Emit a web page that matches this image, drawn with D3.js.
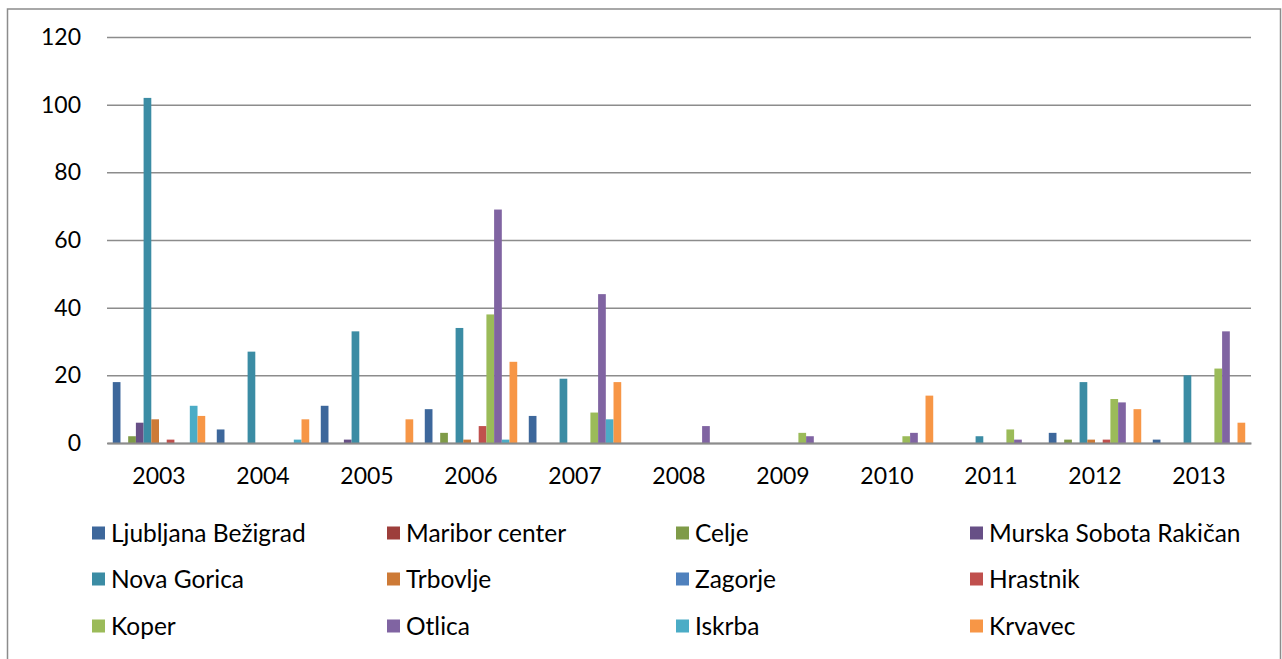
<!DOCTYPE html>
<html lang="sl">
<head>
<meta charset="utf-8">
<title>Stations by year</title>
<script src="https://cdn.jsdelivr.net/npm/d3@7"></script>
<style>
  body { margin: 0; background: #fff; }
  text { font-family: Lato, "Open Sans", sans-serif; fill: #000; }
</style>
</head>
<body>
<div id="chart"></div>
<script>
// categories on the x axis
var years = ["2003", "2004", "2005", "2006", "2007", "2008", "2009", "2010", "2011", "2012", "2013"];

// one series per station, in legend order
var stations = ["Ljubljana Bežigrad", "Maribor center", "Celje", "Murska Sobota Rakičan",
                "Nova Gorica", "Trbovlje", "Zagorje", "Hrastnik",
                "Koper", "Otlica", "Iskrba", "Krvavec"];

var ljubljana = [18, 4, 11, 10, 8, 0, 0, 0, 0, 3, 1];
var maribor   = [0, 0, 0, 0, 0, 0, 0, 0, 0, 0, 0];
var celje     = [2, 0, 0, 3, 0, 0, 0, 0, 0, 1, 0];
var murska    = [6, 0, 1, 0, 0, 0, 0, 0, 0, 0, 0];
var novaGorica = [102, 27, 33, 34, 19, 0, 0, 0, 2, 18, 20];
var trbovlje  = [7, 0, 0, 1, 0, 0, 0, 0, 0, 1, 0];
var zagorje   = [0, 0, 0, 0, 0, 0, 0, 0, 0, 0, 0];
var hrastnik  = [1, 0, 0, 5, 0, 0, 0, 0, 0, 1, 0];
var koper     = [0, 0, 0, 38, 9, 0, 3, 2, 4, 13, 22];
var otlica    = [0, 0, 0, 69, 44, 5, 2, 3, 1, 12, 33];
var iskrba    = [11, 1, 0, 1, 7, 0, 0, 0, 0, 0, 0];
var krvavec   = [8, 7, 7, 24, 18, 0, 0, 14, 0, 10, 6];

var yTicks = [0, 20, 40, 60, 80, 100, 120];

var seriesValues = [ljubljana, maribor, celje, murska, novaGorica, trbovlje,
                    zagorje, hrastnik, koper, otlica, iskrba, krvavec];

var colors = ["#3d679b", "#9d3e3b", "#7f9b48", "#674f86", "#3b8ca4", "#cd7a36",
              "#4f81bd", "#c0504d", "#9bbb59", "#8064a2", "#4bacc6", "#f79646"];

var width = 1282, height = 659;

var svg = d3.select("#chart")
    .append("svg")
    .attr("width", width)
    .attr("height", height);

// outer frame
svg.append("rect")
    .attr("x", 7.5)
    .attr("y", 9)
    .attr("width", 1273)
    .attr("height", 700)
    .attr("fill", "none")
    .attr("stroke", "#8c8c8c")
    .attr("stroke-width", 1.5);

var x0 = d3.scaleBand()
    .domain(years)
    .range([107, 1251])
    .paddingInner(0)
    .paddingOuter(0);

var x1 = d3.scaleBand()
    .domain(stations)
    .range([0, x0.bandwidth()])
    .paddingInner(0)
    .paddingOuter(0.75);

var y = d3.scaleLinear()
    .domain([0, 120])
    .range([443, 37]);

// gridlines + y labels
var yAxis = svg.append("g")
    .attr("transform", "translate(107,0)")
    .call(d3.axisLeft(y).tickValues(yTicks).tickSize(-1144).tickPadding(26));
yAxis.select(".domain").remove();
yAxis.selectAll(".tick line")
    .attr("stroke", "#8c8c8c")
    .attr("stroke-width", 1.5);
yAxis.selectAll(".tick text")
    .attr("font-size", 23)
    .attr("font-family", "Lato, sans-serif")
    .attr("fill", "#000");

// bars
var groups = svg.append("g")
    .selectAll("g")
    .data(years)
    .enter()
    .append("g")
    .attr("transform", function(d) { return "translate(" + x0(d) + ",0)"; });

groups.selectAll("rect")
    .data(function(d, i) {
        return stations.map(function(s, j) {
            return { station: s, idx: j, value: seriesValues[j][i] };
        });
    })
    .enter()
    .filter(function(d) { return d.value > 0; })
    .append("rect")
    .attr("x", function(d) { return x1(d.station); })
    .attr("width", x1.bandwidth())
    .attr("y", function(d) { return y(d.value); })
    .attr("height", function(d) { return y(0) - y(d.value); })
    .attr("fill", function(d) { return colors[d.idx]; });

// x axis
var xAxis = svg.append("g")
    .attr("transform", "translate(0,443)")
    .call(d3.axisBottom(x0).tickSize(0).tickPadding(25));
xAxis.select(".domain")
    .attr("stroke", "#8c8c8c")
    .attr("stroke-width", 2);
xAxis.selectAll(".tick text")
    .attr("font-size", 23)
    .attr("font-family", "Lato, sans-serif")
    .attr("fill", "#000");

// legend, 4 columns x 3 rows
var legendX = [92, 387, 676, 970];
var legendY = [533, 579, 626];

var legend = svg.append("g")
    .selectAll("g")
    .data(stations)
    .enter()
    .append("g")
    .attr("transform", function(d, i) {
        return "translate(" + legendX[i % 4] + "," + legendY[Math.floor(i / 4)] + ")";
    });

legend.append("rect")
    .attr("x", 0)
    .attr("y", -6.5)
    .attr("width", 13)
    .attr("height", 13)
    .attr("fill", function(d, i) { return colors[i]; });

legend.append("text")
    .attr("x", 19)
    .attr("dy", "0.35em")
    .attr("font-size", 24.5)
    .text(function(d) { return d; });
</script>
</body>
</html>
